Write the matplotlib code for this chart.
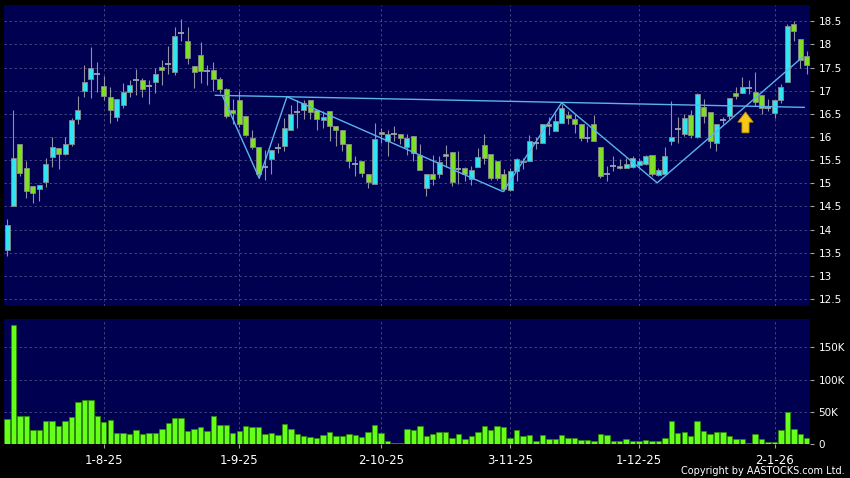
import matplotlib
matplotlib.use("Agg")
import matplotlib.pyplot as plt
from matplotlib.patches import FancyArrow
import numpy as np

# daily candles, index 0 = first trading day shown
opens = [13.55, 14.51, 15.85, 15.33, 14.95, 14.87, 15.03, 15.57, 15.77, 15.64,
         15.85, 16.38, 16.99, 17.26, 17.37, 17.10, 16.87, 16.43, 16.68, 16.97,
         17.23, 17.22, 17.10, 17.18, 17.52, 17.58, 17.41, 18.25, 18.08, 17.54,
         17.77, 17.43, 17.45, 17.26, 17.03, 16.58, 16.79, 16.46, 15.98, 15.78,
         15.36, 15.53, 15.77, 15.80, 16.16, 16.54, 16.59, 16.79, 16.59, 16.36,
         16.57, 16.23, 16.14, 15.84, 15.41, 15.49, 15.20, 14.99, 16.10, 15.92,
         16.07, 16.07, 15.79, 16.02, 15.62, 14.89, 15.19, 15.20, 15.60, 15.68,
         15.30, 15.33, 15.10, 15.35, 15.82, 15.64, 15.49, 15.19, 14.85, 15.26,
         15.48, 15.49, 15.87, 15.87, 16.28, 16.13, 16.31, 16.47, 16.38, 16.27,
         15.97, 16.29, 15.78, 15.20, 15.37, 15.32, 15.33, 15.35, 15.39, 15.42,
         15.61, 15.17, 15.21, 15.91, 16.18, 16.07, 16.47, 16.00, 16.64, 16.54,
         15.86, 16.36, 16.45, 16.95, 16.95, 17.05, 16.97, 16.90, 16.63, 16.52,
         16.79, 17.19, 18.43, 18.12, 17.74]
highs = [14.22, 16.59, 15.85, 15.48, 14.95, 14.97, 15.55, 16.00, 15.77, 16.00,
         16.41, 16.88, 17.56, 17.94, 17.62, 17.31, 17.08, 16.81, 17.17, 17.24,
         17.46, 17.28, 17.24, 17.48, 17.67, 17.96, 18.37, 18.54, 18.37, 17.54,
         18.05, 17.56, 17.62, 17.30, 17.06, 16.81, 16.99, 16.46, 16.15, 15.78,
         15.71, 15.72, 15.87, 16.41, 16.70, 16.79, 16.79, 16.79, 16.59, 16.56,
         16.57, 16.23, 16.14, 15.84, 15.58, 15.49, 15.20, 16.31, 16.20, 16.16,
         16.23, 16.07, 16.06, 16.02, 15.84, 15.19, 15.61, 15.59, 15.82, 15.68,
         15.69, 15.36, 15.37, 15.77, 16.07, 15.64, 15.49, 15.30, 15.33, 15.55,
         15.55, 16.05, 16.00, 16.27, 16.43, 16.52, 16.72, 16.56, 16.49, 16.27,
         16.23, 16.47, 15.78, 15.37, 15.59, 15.52, 15.55, 15.59, 15.55, 15.62,
         15.62, 15.33, 15.78, 16.77, 16.43, 16.49, 16.59, 16.95, 16.83, 16.54,
         16.27, 16.43, 16.85, 17.07, 17.29, 17.22, 17.41, 16.90, 16.81, 16.79,
         17.15, 18.43, 18.50, 18.12, 17.85]
lows = [13.44, 14.51, 15.15, 14.69, 14.58, 14.62, 14.92, 15.36, 15.30, 15.62,
        15.80, 16.28, 16.87, 16.85, 16.97, 16.80, 16.30, 16.34, 16.63, 16.87,
        16.90, 16.86, 16.72, 16.95, 17.13, 17.35, 17.33, 18.07, 17.58, 17.06,
        17.17, 17.13, 16.99, 16.95, 16.41, 16.27, 16.21, 16.02, 15.73, 15.12,
        15.08, 15.20, 15.66, 15.69, 16.16, 16.20, 16.38, 16.38, 16.16, 16.20,
        15.91, 15.80, 15.70, 15.32, 15.15, 15.13, 14.89, 14.99, 15.87, 15.59,
        15.92, 15.85, 15.61, 15.49, 15.28, 14.72, 14.97, 15.12, 15.35, 14.94,
        14.99, 15.05, 14.97, 15.35, 15.42, 15.08, 15.08, 14.83, 14.83, 15.05,
        15.30, 15.48, 15.75, 15.87, 16.05, 16.13, 16.31, 16.27, 16.09, 15.91,
        15.90, 15.92, 15.12, 15.05, 15.26, 15.30, 15.33, 15.33, 15.33, 15.39,
        15.15, 15.15, 15.20, 15.82, 15.87, 16.02, 15.98, 15.97, 16.30, 15.77,
        15.69, 16.27, 16.38, 16.82, 16.95, 16.92, 16.67, 16.50, 16.56, 16.41,
        16.74, 17.19, 18.08, 17.49, 17.35]
closes = [14.09, 15.55, 15.23, 14.83, 14.80, 14.97, 15.42, 15.78, 15.64, 15.85,
          16.36, 16.59, 17.18, 17.49, 17.37, 16.89, 16.59, 16.81, 16.97, 17.13,
          17.23, 17.03, 17.10, 17.37, 17.45, 17.58, 18.17, 18.25, 17.71, 17.41,
          17.42, 17.43, 17.26, 17.03, 16.46, 16.52, 16.27, 16.04, 15.78, 15.20,
          15.36, 15.72, 15.77, 16.20, 16.50, 16.54, 16.73, 16.54, 16.38, 16.43,
          16.23, 16.16, 15.84, 15.49, 15.41, 15.23, 15.03, 15.95, 16.06, 16.07,
          16.07, 15.97, 15.97, 15.66, 15.28, 15.19, 15.10, 15.46, 15.64, 15.03,
          15.30, 15.19, 15.28, 15.57, 15.55, 15.12, 15.12, 14.88, 15.26, 15.53,
          15.45, 15.92, 15.87, 16.27, 16.24, 16.34, 16.62, 16.40, 16.27, 15.98,
          15.97, 15.92, 15.15, 15.20, 15.37, 15.37, 15.42, 15.54, 15.49, 15.58,
          15.19, 15.28, 15.59, 16.00, 16.18, 16.41, 16.04, 16.92, 16.45, 15.91,
          16.27, 16.36, 16.85, 16.88, 17.07, 17.05, 16.76, 16.63, 16.63, 16.79,
          17.08, 18.39, 18.28, 17.67, 17.56]
# volume in thousands of shares
volumes = [39, 185, 44, 43, 22, 21, 35, 36, 28, 35,
           42, 65, 68, 69, 43, 34, 38, 17, 17, 16,
           21, 16, 17, 17, 23, 33, 41, 41, 20, 23,
           27, 20, 44, 29, 30, 17, 20, 28, 27, 26,
           16, 17, 14, 31, 23, 16, 12, 11, 10, 14,
           19, 13, 13, 15, 14, 11, 18, 30, 17, 5,
           1.5, 1.5, 23, 22, 28, 12.5, 16, 18, 19, 10,
           16, 8, 12, 18, 28, 22, 28, 26, 10, 21,
           12.5, 14, 5, 13.5, 7, 8, 14, 9, 10, 6,
           6, 5, 16, 13.5, 5, 5, 7, 5, 5, 6,
           5, 5, 9, 36, 17, 18, 12.5, 35, 20, 16,
           18, 19, 12, 8, 8, 2, 15, 7, 3, 2.5,
           22, 49, 24, 16, 9]

date_ticks = [15, 36, 58, 78, 98, 119]
date_labels = ["1-8-25", "1-9-25", "2-10-25", "3-11-25", "1-12-25", "2-1-26"]
price_ticks = [12.5, 13, 13.5, 14, 14.5, 15, 15.5, 16, 16.5, 17, 17.5, 18, 18.5]
price_labels = ["12.5", "13", "13.5", "14", "14.5", "15", "15.5", "16", "16.5",
                "17", "17.5", "18", "18.5"]
vol_ticks = [0, 50, 100, 150]
vol_labels = ["0", "50K", "100K", "150K"]

# drawn trend lines (index, price)
neck_x = [32.3, 123.6]
neck_y = [16.90, 16.64]
zig_x = [33.4, 39.1, 43.4, 76.9, 86.0, 100.8, 123.3]
zig_y = [16.89, 15.11, 16.87, 14.82, 16.74, 15.01, 17.72]
arrow_x = 114.5
arrow_y = [16.09, 16.54]

o = np.array(opens)
h = np.array(highs)
l = np.array(lows)
c = np.array(closes)
v = np.array(volumes) * 1000
idx = np.arange(len(o))

navy = "#000050"
grid_kw = dict(color="#4c4c86", linestyle=(0, (3, 3)), linewidth=0.6)

fig = plt.figure(figsize=(8.5, 4.78), dpi=100, facecolor="black")
ax = fig.add_axes([4 / 850, 1 - 306 / 478, 806 / 850, 301 / 478])
axv = fig.add_axes([4 / 850, 1 - 444 / 478, 806 / 850, 125 / 478])

for a in (ax, axv):
    a.set_facecolor(navy)
    for s in a.spines.values():
        s.set_visible(False)
    a.set_xlim(-0.47, 124.5)
    a.set_xticks(date_ticks)
    a.grid(True, **grid_kw)
    a.set_axisbelow(True)
    a.yaxis.tick_right()
    a.tick_params(axis="y", colors="#a0a0a0", labelcolor="white",
                  length=3, pad=3, labelsize=7.5)

# candles
up = c > o
down = c < o
flat = c == o
ax.vlines(idx, l, h, color="#9090a0", linewidth=0.8, zorder=2)
ax.bar(idx[up], (c - o)[up], bottom=o[up], width=0.78,
       color="#30e4f2", edgecolor="#8a8a8a", linewidth=0.6, zorder=3)
ax.bar(idx[down], (o - c)[down], bottom=c[down], width=0.78,
       color="#7ee024", edgecolor="#8a8a8a", linewidth=0.6, zorder=3)
ax.hlines(c[flat], idx[flat] - 0.45, idx[flat] + 0.45,
          color="#9ea4b8", linewidth=1.3, zorder=3)

ax.plot(neck_x, neck_y, color="#5ab4ec", linewidth=1.0, zorder=4)
ax.plot(zig_x, zig_y, color="#5ab4ec", linewidth=1.0, zorder=4)

ax.add_patch(FancyArrow(arrow_x, arrow_y[0], 0, arrow_y[1] - arrow_y[0],
                        width=1.1, head_width=2.4, head_length=0.22,
                        length_includes_head=True, facecolor="#f8c818",
                        edgecolor="#c08a00", linewidth=0.6, zorder=5))

ax.set_ylim(12.35, 18.85)
ax.set_yticks(price_ticks)
ax.set_yticklabels(price_labels)
ax.tick_params(axis="x", length=0, labelbottom=False)

# volume
axv.bar(idx, v, width=0.84, color="#66ff1a", edgecolor="#2a8a00",
        linewidth=0.5, zorder=3)
axv.set_ylim(0, 194000)
axv.set_yticks([t * 1000 for t in vol_ticks])
axv.set_yticklabels(vol_labels)
axv.set_xticklabels(date_labels)
axv.tick_params(axis="x", colors="#a0a0a0", labelcolor="white",
                length=3, pad=4, labelsize=8.5)

fig.text(0.994, 0.004, "Copyright by AASTOCKS.com Ltd.", color="white",
         fontsize=7, ha="right", va="bottom")

fig.savefig("out.png", dpi=100, facecolor="black")
